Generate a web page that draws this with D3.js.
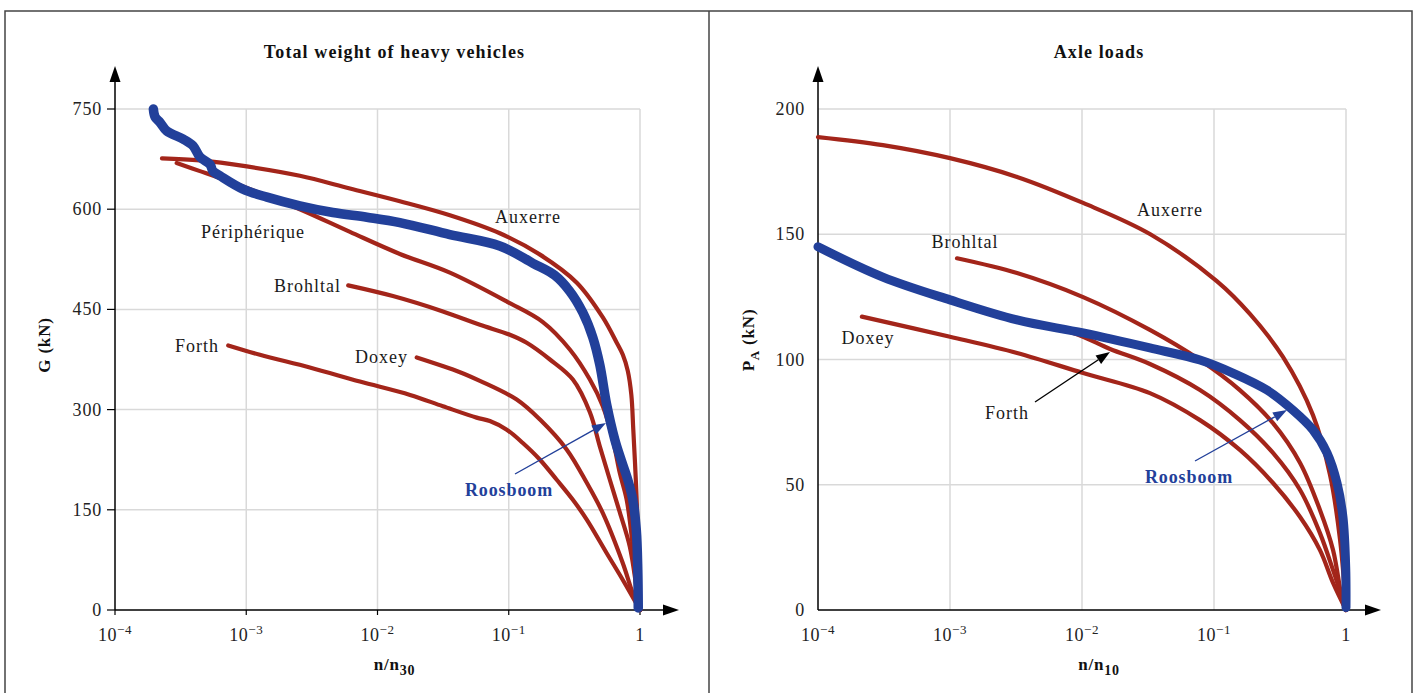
<!DOCTYPE html>
<html><head><meta charset="utf-8">
<script src="https://cdn.jsdelivr.net/npm/d3@7"></script>
<style>
body{margin:0;background:#fff;}
svg{display:block;font-family:"Liberation Serif","Times New Roman",serif;}
</style></head>
<body><svg id="c" width="1417" height="693"></svg>
<script>
// ---------------- DATA ----------------
const xTicks = [1e-4, 1e-3, 1e-2, 1e-1, 1];
const xTickExp = ["−4", "−3", "−2", "−1", null];
const gTicks = [0, 150, 300, 450, 600, 750];
const pTicks = [0, 50, 100, 150, 200];

// Left panel: total weight G (kN) vs n/n30
const gAuxerre = [[2.28e-4,676],[4.44e-4,673],[1.01e-3,664],[2.56e-3,650],[6.17e-3,631],[0.0148,612],[0.0356,591],[0.0855,564],[0.173,532],[0.330,490],[0.521,438],[0.665,400],[0.740,382],[0.807,358],[0.859,322],[0.889,270],[0.929,195],[0.962,120],[1,0]];
const gPeripherique = [[2.95e-4,669],[4.44e-4,657],[1.07e-3,630],[2.56e-3,600],[6.17e-3,566],[0.0148,533],[0.0356,505],[0.0982,461],[0.182,431],[0.292,390],[0.415,345],[0.521,305],[0.621,255],[0.702,205],[0.792,165],[0.881,95],[0.946,25],[1,0]];
const gBrohltal = [[5.98e-3,486],[0.0131,470],[0.0315,447],[0.0603,427],[0.102,412],[0.137,400],[0.206,375],[0.308,345],[0.415,296],[0.494,245],[0.589,195],[0.702,146],[0.836,95],[0.946,30],[1,0]];
const gDoxey = [[0.0199,378],[0.0425,356],[0.0603,343],[0.115,315],[0.173,285],[0.277,240],[0.394,190],[0.521,145],[0.740,70],[0.881,25],[1,0]];
const gForth = [[7.29e-4,396],[1.27e-3,382],[3.05e-3,363],[7.34e-3,342],[0.0177,322],[0.0315,305],[0.0569,288],[0.0718,283],[0.0966,270],[0.128,250],[0.173,225],[0.232,195],[0.308,165],[0.394,135],[0.558,85],[0.740,45],[1,0]];
const gRoosboom = [[1.96e-4,750],[2.02e-4,738],[2.20e-4,730],[2.48e-4,717],[3.31e-4,705],[3.93e-4,695],[4.44e-4,678],[5.30e-4,667],[5.57e-4,657],[6.31e-4,650],[9.44e-4,630],[1.44e-3,618],[2.56e-3,605],[4.57e-3,595],[8.30e-3,588],[0.0148,580],[0.0356,562],[0.0855,545],[0.153,519],[0.224,501],[0.292,477],[0.367,445],[0.437,408],[0.494,367],[0.558,307],[0.643,255],[0.726,222],[0.807,195],[0.881,165],[0.937,120],[0.962,60],[0.970,3]];

// Right panel: axle loads PA (kN) vs n/n10
const pAuxerre = [[1e-4,188.8],[3.10e-4,185.6],[1e-3,180.4],[3.22e-3,172.9],[0.0102,162.5],[0.0327,150.1],[0.105,131.3],[0.187,118.2],[0.333,101.0],[0.562,77.8],[0.757,53.9],[0.902,27.9],[1,0]];
const pBrohltal = [[1.13e-3,140.4],[3.22e-3,134.5],[0.0102,124.9],[0.0327,111.8],[0.0783,99.8],[0.157,87.8],[0.280,74.6],[0.449,58.7],[0.635,39.9],[0.798,23.9],[0.948,2.8],[1,0]];
const pDoxey = [[2.15e-4,117.1],[1e-3,109.1],[3.22e-3,102.6],[0.0102,94.6],[0.0327,86.6],[0.0783,75.8],[0.157,63.9],[0.280,50.7],[0.449,37.1],[0.635,23.9],[0.798,10.8],[1,0]];
const pForth = [[3.22e-3,115.5],[8.55e-3,110.6],[0.0163,104.2],[0.0327,98.2],[0.0783,87.8],[0.157,75.8],[0.280,62.7],[0.449,47.9],[0.635,30.7],[0.798,15.9],[1,0]];
const pRoosboom = [[1e-4,145],[3.10e-4,132.9],[1e-3,123.8],[3.22e-3,115.8],[0.0102,110.6],[0.0327,104.6],[0.0783,99.8],[0.139,94.6],[0.252,87.8],[0.396,79.8],[0.562,71.9],[0.718,62.7],[0.855,50.7],[0.948,37.1],[0.995,17],[1,1]];

// ---------------- STYLE ----------------
const RED = "#a3251a", BLUE = "#22409a", GRID = "#d9d9d9";
const svg = d3.select("#c");

// frame
svg.append("rect").attr("x",5).attr("y",11).attr("width",1407).attr("height",700)
  .attr("fill","none").attr("stroke","#444").attr("stroke-width",1.5);
svg.append("line").attr("x1",709).attr("x2",709).attr("y1",11).attr("y2",700)
  .attr("stroke","#444").attr("stroke-width",1.5);

function panel(opt){
  const g = svg.append("g");
  const x = d3.scaleLog().domain([1e-4,1]).range([opt.x0,opt.x1]);
  const y = d3.scaleLinear().domain([0,opt.ymax]).range([610,109]);
  const cx = (opt.x0+opt.x1)/2 + 17;
  // grid
  g.selectAll(".vg").data(xTicks.slice(1)).join("line")
    .attr("x1",d=>x(d)).attr("x2",d=>x(d)).attr("y1",y(0)).attr("y2",y(opt.ymax))
    .attr("stroke",GRID).attr("stroke-width",1.5);
  g.selectAll(".hg").data(opt.yTicks.filter(d=>d>0)).join("line")
    .attr("x1",opt.x0).attr("x2",opt.x1).attr("y1",d=>y(d)).attr("y2",d=>y(d))
    .attr("stroke",GRID).attr("stroke-width",1.5);
  // axes lines + arrows
  g.append("line").attr("x1",opt.x0).attr("x2",opt.x0).attr("y1",610).attr("y2",78).attr("stroke","#000").attr("stroke-width",1.5);
  g.append("path").attr("d",`M${opt.x0},66 L${opt.x0-5.5},82 L${opt.x0+5.5},82 Z`).attr("fill","#000");
  g.append("line").attr("x1",opt.x0).attr("x2",opt.xArrow-10).attr("y1",610).attr("y2",610).attr("stroke","#000").attr("stroke-width",1.5);
  g.append("path").attr("d",`M${opt.xArrow},610 L${opt.xArrow-16},604.5 L${opt.xArrow-16},615.5 Z`).attr("fill","#000");
  if(opt.ticks){
    g.selectAll(".xt").data(xTicks).join("line").attr("x1",d=>x(d)).attr("x2",d=>x(d)).attr("y1",610).attr("y2",615).attr("stroke","#000").attr("stroke-width",1.2);
    g.selectAll(".yt").data(opt.yTicks).join("line").attr("x1",opt.x0-8).attr("x2",opt.x0).attr("y1",d=>y(d)).attr("y2",d=>y(d)).attr("stroke","#000").attr("stroke-width",1.2);
  }
  // tick labels
  g.selectAll(".yl").data(opt.yTicks).join("text")
    .attr("x",opt.x0-13).attr("y",d=>y(d)+6).attr("text-anchor","end")
    .attr("font-size",18).attr("letter-spacing",0.8).attr("fill","#222").text(d=>d);
  const xl = g.selectAll(".xl").data(xTicks).join("text")
    .attr("x",d=>x(d)).attr("y",641).attr("text-anchor","middle").attr("font-size",18).attr("letter-spacing",0.6).attr("fill","#222");
  xl.each(function(d,i){
    const t = d3.select(this);
    if(xTickExp[i]===null){ t.text("1"); return; }
    t.append("tspan").text("10");
    t.append("tspan").attr("dy",-7).attr("font-size",13).text(xTickExp[i]);
  });
  // title
  g.append("text").attr("x",cx).attr("y",58).attr("text-anchor","middle")
    .attr("font-size",18).attr("letter-spacing",1.1).attr("font-weight","bold").attr("fill","#111").text(opt.title);
  // x axis title
  const xt = g.append("text").attr("x",cx).attr("y",670).attr("text-anchor","middle")
    .attr("font-size",17).attr("letter-spacing",0.8).attr("font-weight","bold").attr("fill","#111");
  xt.append("tspan").text("n/n");
  xt.append("tspan").attr("dy",5).attr("font-size",14).text(opt.xsub);
  // y axis title
  const yt = g.append("text").attr("transform",`translate(${opt.yLabX},${opt.yLabY}) rotate(-90)`)
    .attr("text-anchor","middle").attr("font-size",17).attr("letter-spacing",0.8).attr("font-weight","bold").attr("fill","#111");
  yt.append("tspan").text(opt.ysym);
  if(opt.ysub){ yt.append("tspan").attr("dy",5).attr("font-size",13).text(opt.ysub); yt.append("tspan").attr("dy",-5).text(" (kN)"); }
  else yt.append("tspan").text(" (kN)");
  // curves
  const line = d3.line().x(d=>x(d[0])).y(d=>y(d[1])).curve(d3.curveCatmullRom.alpha(0.5));
  opt.reds.forEach(s=>{
    g.append("path").attr("d",line(s)).attr("fill","none").attr("stroke",RED)
      .attr("stroke-width",4.2).attr("stroke-linecap","round").attr("stroke-linejoin","round");
  });
  g.append("path").attr("d",line(opt.blue)).attr("fill","none").attr("stroke",BLUE)
    .attr("stroke-width",opt.blueW).attr("stroke-linecap","round").attr("stroke-linejoin","round");
  return {g,x,y};
}

const L = panel({x0:115,x1:640,xArrow:679,ymax:750,yTicks:gTicks,ticks:true,
  title:"Total weight of heavy vehicles",xsub:"30",ysym:"G",ysub:null,yLabX:50,yLabY:345,
  reds:[gAuxerre,gPeripherique,gBrohltal,gDoxey,gForth],blue:gRoosboom,blueW:9.5});
const R = panel({x0:818,x1:1346,xArrow:1381,ymax:200,yTicks:pTicks,ticks:false,
  title:"Axle loads",xsub:"10",ysym:"P",ysub:"A",yLabX:754,yLabY:340,
  reds:[pAuxerre,pBrohltal,pDoxey,pForth],blue:pRoosboom,blueW:9});

// labels
function label(g,txt,x,y,anchor,opts={}){
  g.append("text").attr("x",x).attr("y",y).attr("text-anchor",anchor)
    .attr("font-size",opts.size||18).attr("letter-spacing",opts.bold?0.9:1)
    .attr("font-weight",opts.bold?"bold":"normal")
    .attr("fill",opts.color||"#1a1a1a").text(txt);
}
label(L.g,"Auxerre",528,223,"middle");
label(L.g,"Périphérique",253,238,"middle");
label(L.g,"Brohltal",341,292,"end");
label(L.g,"Forth",219,352,"end");
label(L.g,"Doxey",408,363,"end");
label(L.g,"Roosboom",509,496,"middle",{bold:true,color:BLUE});
label(R.g,"Auxerre",1170,216,"middle");
label(R.g,"Brohltal",965,248,"middle");
label(R.g,"Doxey",868,344,"middle");
label(R.g,"Forth",1007,419,"middle");
label(R.g,"Roosboom",1189,483,"middle",{bold:true,color:BLUE});

// annotation arrows
function arrow(x1,y1,x2,y2,color){
  const a = Math.atan2(y2-y1,x2-x1), len=14, w=5;
  const bx = x2-len*Math.cos(a), by = y2-len*Math.sin(a);
  svg.append("line").attr("x1",x1).attr("y1",y1).attr("x2",bx).attr("y2",by).attr("stroke",color).attr("stroke-width",1.4);
  svg.append("path").attr("d",`M${x2},${y2} L${bx+w*Math.sin(a)},${by-w*Math.cos(a)} L${bx-w*Math.sin(a)},${by+w*Math.cos(a)} Z`).attr("fill",color);
}
arrow(515,474,606,423,BLUE);
arrow(1195,461,1287,410,BLUE);
arrow(1035,402,1110,352,"#000");
</script></body></html>
